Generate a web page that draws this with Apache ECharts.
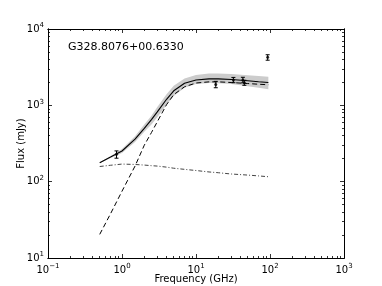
<!DOCTYPE html>
<html><head><meta charset="utf-8">
<script src="https://cdn.jsdelivr.net/npm/echarts@6/dist/echarts.min.js"></script>
<style>html,body{margin:0;padding:0;background:#fff}#c{width:382px;height:286px}</style>
</head><body><div id="c"></div>
<script>
var sourceName = 'G328.8076+00.6330';
var xTicks = [0.1, 1, 10, 100, 1000];
var yTicks = [10, 100, 1000, 10000];
var freqModel = [0.5, 0.7, 1, 1.5, 2, 2.5, 3, 4, 5, 7, 10, 15, 20, 30, 50, 70, 95];
var totalFlux = [177, 210, 252, 360, 500, 650, 820, 1200, 1550, 1950, 2150, 2220, 2220, 2180, 2100, 2040, 1990];
var thermalFlux = [20.4, 38, 75, 160, 300, 440, 610, 1020, 1380, 1750, 1960, 2030, 2030, 1990, 1930, 1890, 1860];
var nonthermalFlux = [158, 164, 170, 168, 165, 162, 160, 155, 150, 145, 140, 134, 131, 126, 122, 119, 116];
var bandUpper = [180, 216, 268, 395, 560, 730, 950, 1400, 1800, 2250, 2500, 2620, 2620, 2570, 2480, 2420, 2370];
var bandLower = [174, 204, 238, 330, 450, 560, 700, 1020, 1330, 1700, 1900, 1960, 1950, 1900, 1780, 1700, 1620];
var obsFreq = [0.843, 18.5, 32, 43, 45, 93];
var obsFlux = [228, 1880, 2150, 2150, 1980, 4250];
var obsErr = [25, 180, 170, 180, 150, 350];

function minors(lo, hi) {
  var out = [];
  for (var d = lo; d < hi; d *= 10) for (var k = 2; k <= 9; k++) out.push(d * k);
  return out;
}
function expLabel(v) {
  var e = Math.round(Math.log10(v));
  return '{b|10}{s|' + (e < 0 ? '\u2212' + (-e) : e) + '}';
}
var rich = {b: {fontSize: 10, fontFamily: 'DejaVu Sans', color: '#000'}, s: {fontSize: 7, fontFamily: 'DejaVu Sans', color: '#000', padding: [0, 0, 7, 0]}};
var line = {show: true, lineStyle: {color: '#000', width: 1}};
function xAx(pos, minor, label) {
  return {type: 'log', logBase: 10, min: 0.1, max: 1000, position: pos, splitLine: {show: false},
    axisLine: line,
    axisTick: {show: true, inside: true, length: minor ? 2 : 4, lineStyle: {color: '#000', width: 0.8}, customValues: minor ? minors(0.1, 1000) : xTicks},
    axisLabel: label ? {show: true, formatter: expLabel, rich: rich, margin: 5, customValues: xTicks} : {show: false},
    name: label ? 'Frequency (GHz)' : '', nameLocation: 'middle', nameGap: 16, nameMoveOverlap: false,
    nameTextStyle: {fontSize: 10, fontFamily: 'DejaVu Sans', color: '#000'}};
}
function yAx(pos, minor, label) {
  return {type: 'log', logBase: 10, min: 10, max: 10000, position: pos, splitLine: {show: false},
    axisLine: line,
    axisTick: {show: true, inside: true, length: minor ? 2 : 4, lineStyle: {color: '#000', width: 0.8}, customValues: minor ? minors(10, 10000) : yTicks},
    axisLabel: label ? {show: true, formatter: expLabel, rich: rich, margin: 4, customValues: yTicks} : {show: false},
    name: label ? 'Flux (mJy)' : '', nameLocation: 'middle', nameGap: 22, nameRotate: 90, nameMoveOverlap: false,
    nameTextStyle: {fontSize: 10, fontFamily: 'DejaVu Sans', color: '#000'}};
}
function pairs(xs, ys) { return xs.map(function (x, i) { return [x, ys[i]]; }); }

var chart = echarts.init(document.getElementById('c'), null, {renderer: 'canvas'});
chart.setOption({
  animation: false,
  backgroundColor: '#fff',
  grid: {left: 48, right: 38, top: 29, bottom: 28, containLabel: false, outerBoundsMode: 'none'},
  xAxis: [xAx('bottom', false, true), xAx('top', false, false), xAx('bottom', true, false), xAx('top', true, false)],
  yAxis: [yAx('left', false, true), yAx('right', false, false), yAx('left', true, false), yAx('right', true, false)],
  graphic: [{type: 'text', left: 68, top: 42, style: {text: sourceName, fontSize: 11, fontFamily: 'DejaVu Sans', fill: '#000'}}],
  series: [
    {type: 'custom', data: [[0]], z: 1, renderItem: function (params, api) {
      var pts = [];
      for (var i = 0; i < freqModel.length; i++) pts.push(api.coord([freqModel[i], bandUpper[i]]));
      for (var j = freqModel.length - 1; j >= 0; j--) pts.push(api.coord([freqModel[j], bandLower[j]]));
      return {type: 'polygon', shape: {points: pts}, style: {fill: '#cccccc', stroke: null}};
    }},
    {type: 'line', data: pairs(freqModel, nonthermalFlux), showSymbol: false, z: 3,
      lineStyle: {color: '#444', width: 1, type: [4, 2, 1, 2]}},
    {type: 'line', data: pairs(freqModel, thermalFlux), showSymbol: false, z: 3,
      lineStyle: {color: '#000', width: 1, type: [5, 3]}},
    {type: 'line', data: pairs(freqModel, totalFlux), showSymbol: false, z: 4,
      lineStyle: {color: '#000', width: 1.1}},
    {type: 'custom', z: 5, data: obsFreq.map(function (f, i) { return [f, obsFlux[i], obsErr[i]]; }),
      renderItem: function (params, api) {
        var f = api.value(0), s = api.value(1), e = api.value(2);
        var top = api.coord([f, s + e]), bot = api.coord([f, s - e]);
        var st = {stroke: '#000', lineWidth: 1};
        return {type: 'group', children: [
          {type: 'line', shape: {x1: top[0], y1: top[1], x2: bot[0], y2: bot[1]}, style: st},
          {type: 'line', shape: {x1: top[0] - 2, y1: top[1], x2: top[0] + 2, y2: top[1]}, style: st},
          {type: 'line', shape: {x1: bot[0] - 2, y1: bot[1], x2: bot[0] + 2, y2: bot[1]}, style: st}
        ]};
      }},
    {type: 'scatter', data: pairs(obsFreq, obsFlux), symbol: 'circle', symbolSize: 3, z: 6,
      itemStyle: {color: '#000'}}
  ]
});
</script></body></html>
